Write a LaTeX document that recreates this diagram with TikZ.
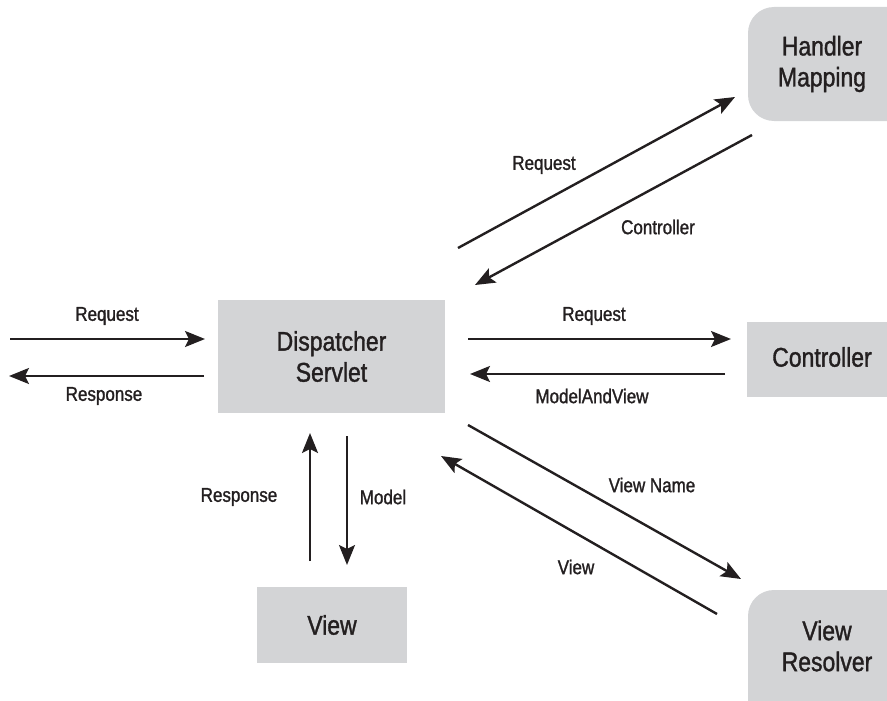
\documentclass[tikz,border=0pt]{standalone}
\usepackage{fontspec}
\setmainfont{Liberation Sans}[FakeStretch=0.85,FakeBold=1.3]
\usetikzlibrary{arrows.meta}
\definecolor{boxgray}{HTML}{D3D4D6}
\definecolor{ink}{HTML}{231F20}
\tikzset{
  big/.style={font=\fontsize{27}{31}\selectfont},
  box/.style={fill=boxgray,draw=none,align=center,text=ink,big},
  rbox/.style={box,rounded corners=26pt},
  lbl/.style={text=ink,font=\fontsize{20}{22}\selectfont},
  arr/.style={draw=ink,line width=2.4pt,-{Stealth[length=20pt,width=16pt,inset=4pt]}}
}
\begin{document}
\begin{tikzpicture}[x=1pt,y=-1pt]
\useasboundingbox (0,0) rectangle (887,701);
\clip (0,0) rectangle (887,701);
% boxes
\node[box,minimum width=227pt,minimum height=113pt] (ds) at (331.5,356.5) {Dispatcher\\Servlet};
\node[box,minimum width=150pt,minimum height=75pt] (ctrl) at (822,359.5) {};
\node[text=ink,big] (ctrlt) at (822,357) {Controller};
\node[box,minimum width=150pt,minimum height=76pt] (view) at (332,625) {View};
\node[rbox,minimum width=190pt,minimum height=114pt] (hm) at (843,64) {};
\node[text=ink,align=center,big] (hmt) at (822,64) {Handler\\Mapping};
\node[rbox,minimum width=190pt,minimum height=140pt] (vr) at (843,660) {};
\node[text=ink,align=center,big] (vrt) at (827,646) {View\\Resolver};
% connector end points
\coordinate (a1) at (10,339);   \coordinate (a2) at (205,339);
\coordinate (b1) at (204,376);  \coordinate (b2) at (9,376);
\coordinate (c1) at (468,339);  \coordinate (c2) at (731,339);
\coordinate (d1) at (725,374);  \coordinate (d2) at (470,374);
\coordinate (e1) at (458,248);  \coordinate (e2) at (735,97);
\coordinate (f1) at (752,135);  \coordinate (f2) at (475,285);
\coordinate (g1) at (310,561);  \coordinate (g2) at (310,433);
\coordinate (h1) at (347,436);  \coordinate (h2) at (347,565);
\coordinate (i1) at (468,425);  \coordinate (i2) at (741,579);
\coordinate (j1) at (717,614);  \coordinate (j2) at (441,456);
% connectors
\draw[arr] (a1) -- (a2);
\draw[arr] (b1) -- (b2);
\draw[arr] (c1) -- (c2);
\draw[arr] (d1) -- (d2);
\draw[arr] (e1) -- (e2);
\draw[arr] (f1) -- (f2);
\draw[arr] (g1) -- (g2);
\draw[arr] (h1) -- (h2);
\draw[arr] (i1) -- (i2);
\draw[arr] (j1) -- (j2);
% labels
\node[lbl] (l1) at (107,316) {Request};
\node[lbl] (l2) at (104,396) {Response};
\node[lbl] (l3) at (594,316) {Request};
\node[lbl] (l4) at (592,396) {ModelAndView};
\node[lbl] (l5) at (544,165) {Request};
\node[lbl] (l6) at (658,227) {Controller};
\node[lbl] (l7) at (239,497) {Response};
\node[lbl] (l8) at (383,497) {Model};
\node[lbl] (l9) at (652,485) {View Name};
\node[lbl] (l10) at (576,567) {View};
\end{tikzpicture}
\end{document}
